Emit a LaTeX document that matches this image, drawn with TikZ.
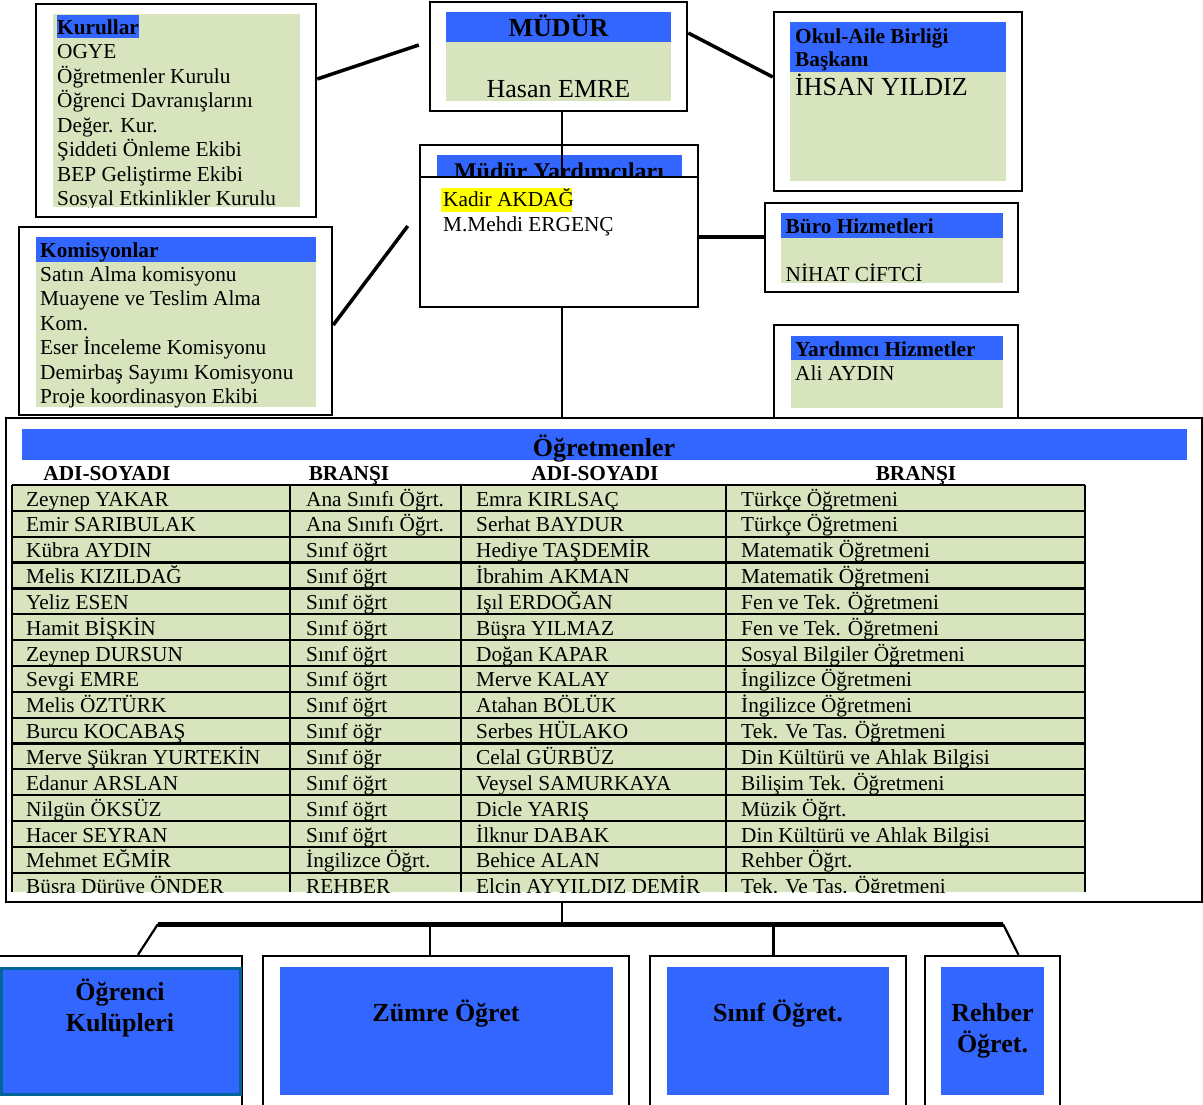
\documentclass[tikz,border=0pt]{standalone}
\usepackage{fontspec}
\setmainfont{Liberation Serif}
\usetikzlibrary{positioning}
\definecolor{hdrblue}{HTML}{3366FF}
\definecolor{boxgreen}{HTML}{D7E4BD}
\definecolor{clubteal}{HTML}{006699}
\definecolor{markyellow}{HTML}{FFFF00}

\begin{document}
\begin{tikzpicture}
		[x=1pt,y=-1pt,
		frame/.style={draw,line width=2.5pt,fill=white,inner sep=0pt},
		link/.style={line width=3.5pt},
		stem/.style={line width=2.2pt},
		gridline/.style={line width=2.2pt},
		txt/.style={anchor=base west,inner sep=0pt,font=\fontsize{21.3}{24}\selectfont},
		btxt/.style={txt,font=\fontsize{21.3}{24}\selectfont\bfseries},
		big/.style={anchor=base,inner sep=0pt,font=\fontsize{26}{31}\selectfont},
		bigb/.style={big,font=\fontsize{26}{31}\selectfont\bfseries}]
		\useasboundingbox (0,0) rectangle (1203,1104);
		\clip (0,0) rectangle (1203,1104);
		
		% boxes
		\node[frame,minimum width=280pt,minimum height=213pt] (kurul) at (176,110.5) {};
		\node[frame,minimum width=257pt,minimum height=109pt] (mudur) at (558.5,56.5) {};
		\node[frame,minimum width=248pt,minimum height=179pt] (oab) at (898,101.5) {};
		\node[frame,minimum width=278pt,minimum height=162pt] (myard) at (559,226) {};
		\node[frame,minimum width=278pt,minimum height=130pt] (mylist) at (559,242) {};
		\node[frame,minimum width=313pt,minimum height=188pt] (komis) at (175.5,321) {};
		\node[frame,minimum width=253pt,minimum height=89pt] (buro) at (891.5,247.5) {};
		\node[frame,minimum width=244pt,minimum height=93pt] (yardh) at (896,371.5) {};
		\node[frame,minimum width=1196pt,minimum height=484pt] (ogret) at (604,660) {};
		\node[frame,minimum width=248pt,minimum height=164pt] (kulup) at (118,1038) {};
		\node[frame,minimum width=366pt,minimum height=164pt] (zumre) at (446,1038) {};
		\node[frame,minimum width=256pt,minimum height=164pt] (sinif) at (778,1038) {};
		\node[frame,minimum width=135pt,minimum height=164pt] (rehber) at (992.5,1038) {};
		
		% fills
		\fill[boxgreen] (53,14) rectangle (300,207);
		\fill[hdrblue] (57,15) rectangle (139,38);
		\fill[hdrblue] (446,12) rectangle (671,42);
		\fill[boxgreen] (446,42) rectangle (671,101);
		\fill[hdrblue] (790,22) rectangle (1006,72);
		\fill[boxgreen] (790,72) rectangle (1006,181);
		\fill[hdrblue] (437,155) rectangle (682,176);
		\fill[hdrblue] (36,237) rectangle (316,262);
		\fill[boxgreen] (36,262) rectangle (316,407);
		\fill[hdrblue] (781,213) rectangle (1003,238);
		\fill[boxgreen] (781,238) rectangle (1003,283);
		\fill[hdrblue] (791,336) rectangle (1003,360);
		\fill[boxgreen] (791,360) rectangle (1003,408);
		\fill[hdrblue] (22,429) rectangle (1187,460);
		\fill[markyellow] (441,188) rectangle (572,211.5);
		\filldraw[fill=hdrblue,draw=clubteal,line width=3pt] (1,968) rectangle (240,1094);
		\fill[hdrblue] (280,967) rectangle (613,1095);
		\fill[hdrblue] (667,967) rectangle (889,1095);
		\fill[hdrblue] (941,967) rectangle (1044,1095);
		
		% connectors
		\coordinate (bar) at (562,924);
		\coordinate (barL) at (158,924);
		\coordinate (barR) at (1003,924);
		\draw[link] ([yshift=31.5pt]kurul.east) -- ([xshift=-10pt,yshift=11.5pt]mudur.west);
		\draw[link] ([yshift=23.5pt]mudur.east) -- ([yshift=24.5pt]oab.west);
		\draw[stem] ([xshift=3.5pt]mudur.south) -- ([xshift=3.5pt]mudur.south |- mylist.north);
		\draw[link] ([xshift=-11pt]myard.west) -- ([yshift=-4pt]komis.east);
		\draw[link] ([yshift=-11pt]myard.east) -- ([yshift=-11pt]myard.east -| buro.west);
		\draw[stem] ([xshift=3pt]myard.south) -- ([xshift=3pt]myard.south |- ogret.north);
		\draw[stem] (ogret.south -| bar) -- (bar);
		\draw[line width=5pt] (barL) -- (barR);
		\draw[stem] (barL) -- ([xshift=20pt]kulup.north);
		\draw[stem] ([xshift=-16pt]zumre.north) -- ([xshift=-16pt]zumre.north |- bar);
		\draw[stem] ([xshift=-4.5pt]sinif.north) -- ([xshift=-4.5pt]sinif.north |- bar);
		\draw[stem] (barR) -- ([xshift=26pt]rehber.north);
		
		% Kurullar
		\begin{scope}
		\clip (53,14) rectangle (300,207);
		\node[btxt] (kurul-t) at (57,34.5) {Kurullar};
		\foreach \lbl [count=\i] in {OGYE,Öğretmenler Kurulu,Öğrenci Davranışlarını,Değer. Kur.,Şiddeti Önleme Ekibi,BEP Geliştirme Ekibi,Sosyal Etkinlikler Kurulu}
		\node[txt] (kurul-\i) at (57,{34.5+24.45*\i}) {\lbl};
		\end{scope}
		
		% Mudur
		\node[bigb] (mudur-t) at (558.5,36) {MÜDÜR};
		\node[big] (mudur-n) at (558.5,97.7) {Hasan EMRE};
		
		% Okul-Aile Birligi
		\node[btxt] (oab-t1) at (795,43.3) {Okul-Aile Birliği};
		\node[btxt] (oab-t2) at (795,66.7) {Başkanı};
		\node[big,anchor=base west] (oab-n) at (795,95.7) {İHSAN YILDIZ};
		
		% Mudur Yardimcilari
		\begin{scope}
		\clip (437,155) rectangle (682,176);
		\node[btxt,anchor=base,font=\fontsize{24}{28}\selectfont\bfseries] (myard-t) at (559,179) {Müdür Yardımcıları};
		\end{scope}
		\node[txt] (myard-1) at (443,206.7) {Kadir AKDAĞ};
		\node[txt] (myard-2) at (443,231) {M.Mehdi ERGENÇ};
		
		% Komisyonlar
		\begin{scope}
		\clip (36,237) rectangle (316,407);
		\node[btxt] (komis-t) at (40,257) {Komisyonlar};
		\foreach \lbl [count=\i] in {Satın Alma komisyonu,Muayene ve Teslim Alma,Kom.,Eser İnceleme Komisyonu,Demirbaş Sayımı Komisyonu,Proje koordinasyon Ekibi}
		\node[txt] (komis-\i) at (40,{257+24.45*\i}) {\lbl};
		\end{scope}
		
		% Buro, Yardimci
		\node[btxt] (buro-t) at (785.5,233.3) {Büro Hizmetleri};
		\begin{scope}
		\clip (781,238) rectangle (1003,283);
		\node[txt] (buro-n) at (785.5,281.7) {NİHAT CİFTCİ};
		\end{scope}
		\node[btxt] (yardh-t) at (795,356) {Yardımcı Hizmetler};
		\node[txt] (yardh-n) at (795,380.7) {Ali AYDIN};
		
		% Ogretmenler
		\node[bigb] (ogret-t) at (604,456.5) {Öğretmenler};
		\node[btxt,anchor=base] (hd-1) at (107,480) {ADI-SOYADI};
		\node[btxt,anchor=base] (hd-2) at (349,480) {BRANŞI};
		\node[btxt,anchor=base] (hd-3) at (595,480) {ADI-SOYADI};
		\node[btxt,anchor=base] (hd-4) at (916,480) {BRANŞI};
		\begin{scope}
		\clip (0,482) rectangle (1100,892);
		\fill[boxgreen] (12,485) rectangle (1085,892);
		\foreach \r in {0,...,16}
		\draw[gridline] (12,{485+25.85*\r}) -- (1085,{485+25.85*\r});
		\foreach \c in {12,290,461,726,1085}
		\draw[gridline] (\c,485) -- (\c,892);
		\foreach \na/\ba/\nb/\bb [count=\i] in 
		{Zeynep YAKAR/Ana Sınıfı Öğrt./Emra KIRLSAÇ/Türkçe Öğretmeni,
			Emir SARIBULAK/Ana Sınıfı Öğrt./Serhat BAYDUR/Türkçe Öğretmeni,
			Kübra AYDIN/Sınıf öğrt/Hediye TAŞDEMİR/Matematik Öğretmeni,
			Melis KIZILDAĞ/Sınıf öğrt/İbrahim AKMAN/Matematik Öğretmeni,
			Yeliz ESEN/Sınıf öğrt/Işıl ERDOĞAN/Fen ve Tek. Öğretmeni,
			Hamit BİŞKİN/Sınıf öğrt/Büşra YILMAZ/Fen ve Tek. Öğretmeni,
			Zeynep DURSUN/Sınıf öğrt/Doğan KAPAR/Sosyal Bilgiler Öğretmeni,
			Sevgi EMRE/Sınıf öğrt/Merve KALAY/İngilizce Öğretmeni,
			Melis ÖZTÜRK/Sınıf öğrt/Atahan BÖLÜK/İngilizce Öğretmeni,
			Burcu KOCABAŞ/Sınıf öğr/Serbes HÜLAKO/Tek. Ve Tas. Öğretmeni,
			Merve Şükran YURTEKİN/Sınıf öğr/Celal GÜRBÜZ/Din Kültürü ve Ahlak Bilgisi,
			Edanur ARSLAN/Sınıf öğrt/Veysel SAMURKAYA/Bilişim Tek. Öğretmeni,
			Nilgün ÖKSÜZ/Sınıf öğrt/Dicle YARIŞ/Müzik Öğrt.,
			Hacer SEYRAN/Sınıf öğrt/İlknur DABAK/Din Kültürü ve Ahlak Bilgisi,
			Mehmet EĞMİR/İngilizce Öğrt./Behice ALAN/Rehber Öğrt.,
			Büşra Dürüye ÖNDER/REHBER/Elçin AYYILDIZ DEMİR/Tek. Ve Tas. Öğretmeni}
		{
			\node[txt] (row-\i-a) at (26,{480.15+25.85*\i}) {\na};
			\node[txt] (row-\i-b) at (306,{480.15+25.85*\i}) {\ba};
			\node[txt] (row-\i-c) at (476,{480.15+25.85*\i}) {\nb};
			\node[txt] (row-\i-d) at (741,{480.15+25.85*\i}) {\bb};
		}
		\end{scope}
		
		% bottom boxes
		\node[bigb] (kulup-1) at (120,1000) {Öğrenci};
		\node[bigb] (kulup-2) at (120,1031.5) {Kulüpleri};
		\node[bigb] (zumre-t) at (446,1021.5) {Zümre Öğret};
		\node[bigb] (sinif-t) at (778,1021.5) {Sınıf Öğret.};
		\node[bigb] (rehber-1) at (992.5,1021.5) {Rehber};
		\node[bigb] (rehber-2) at (992.5,1052.5) {Öğret.};
\end{tikzpicture}
\end{document}
